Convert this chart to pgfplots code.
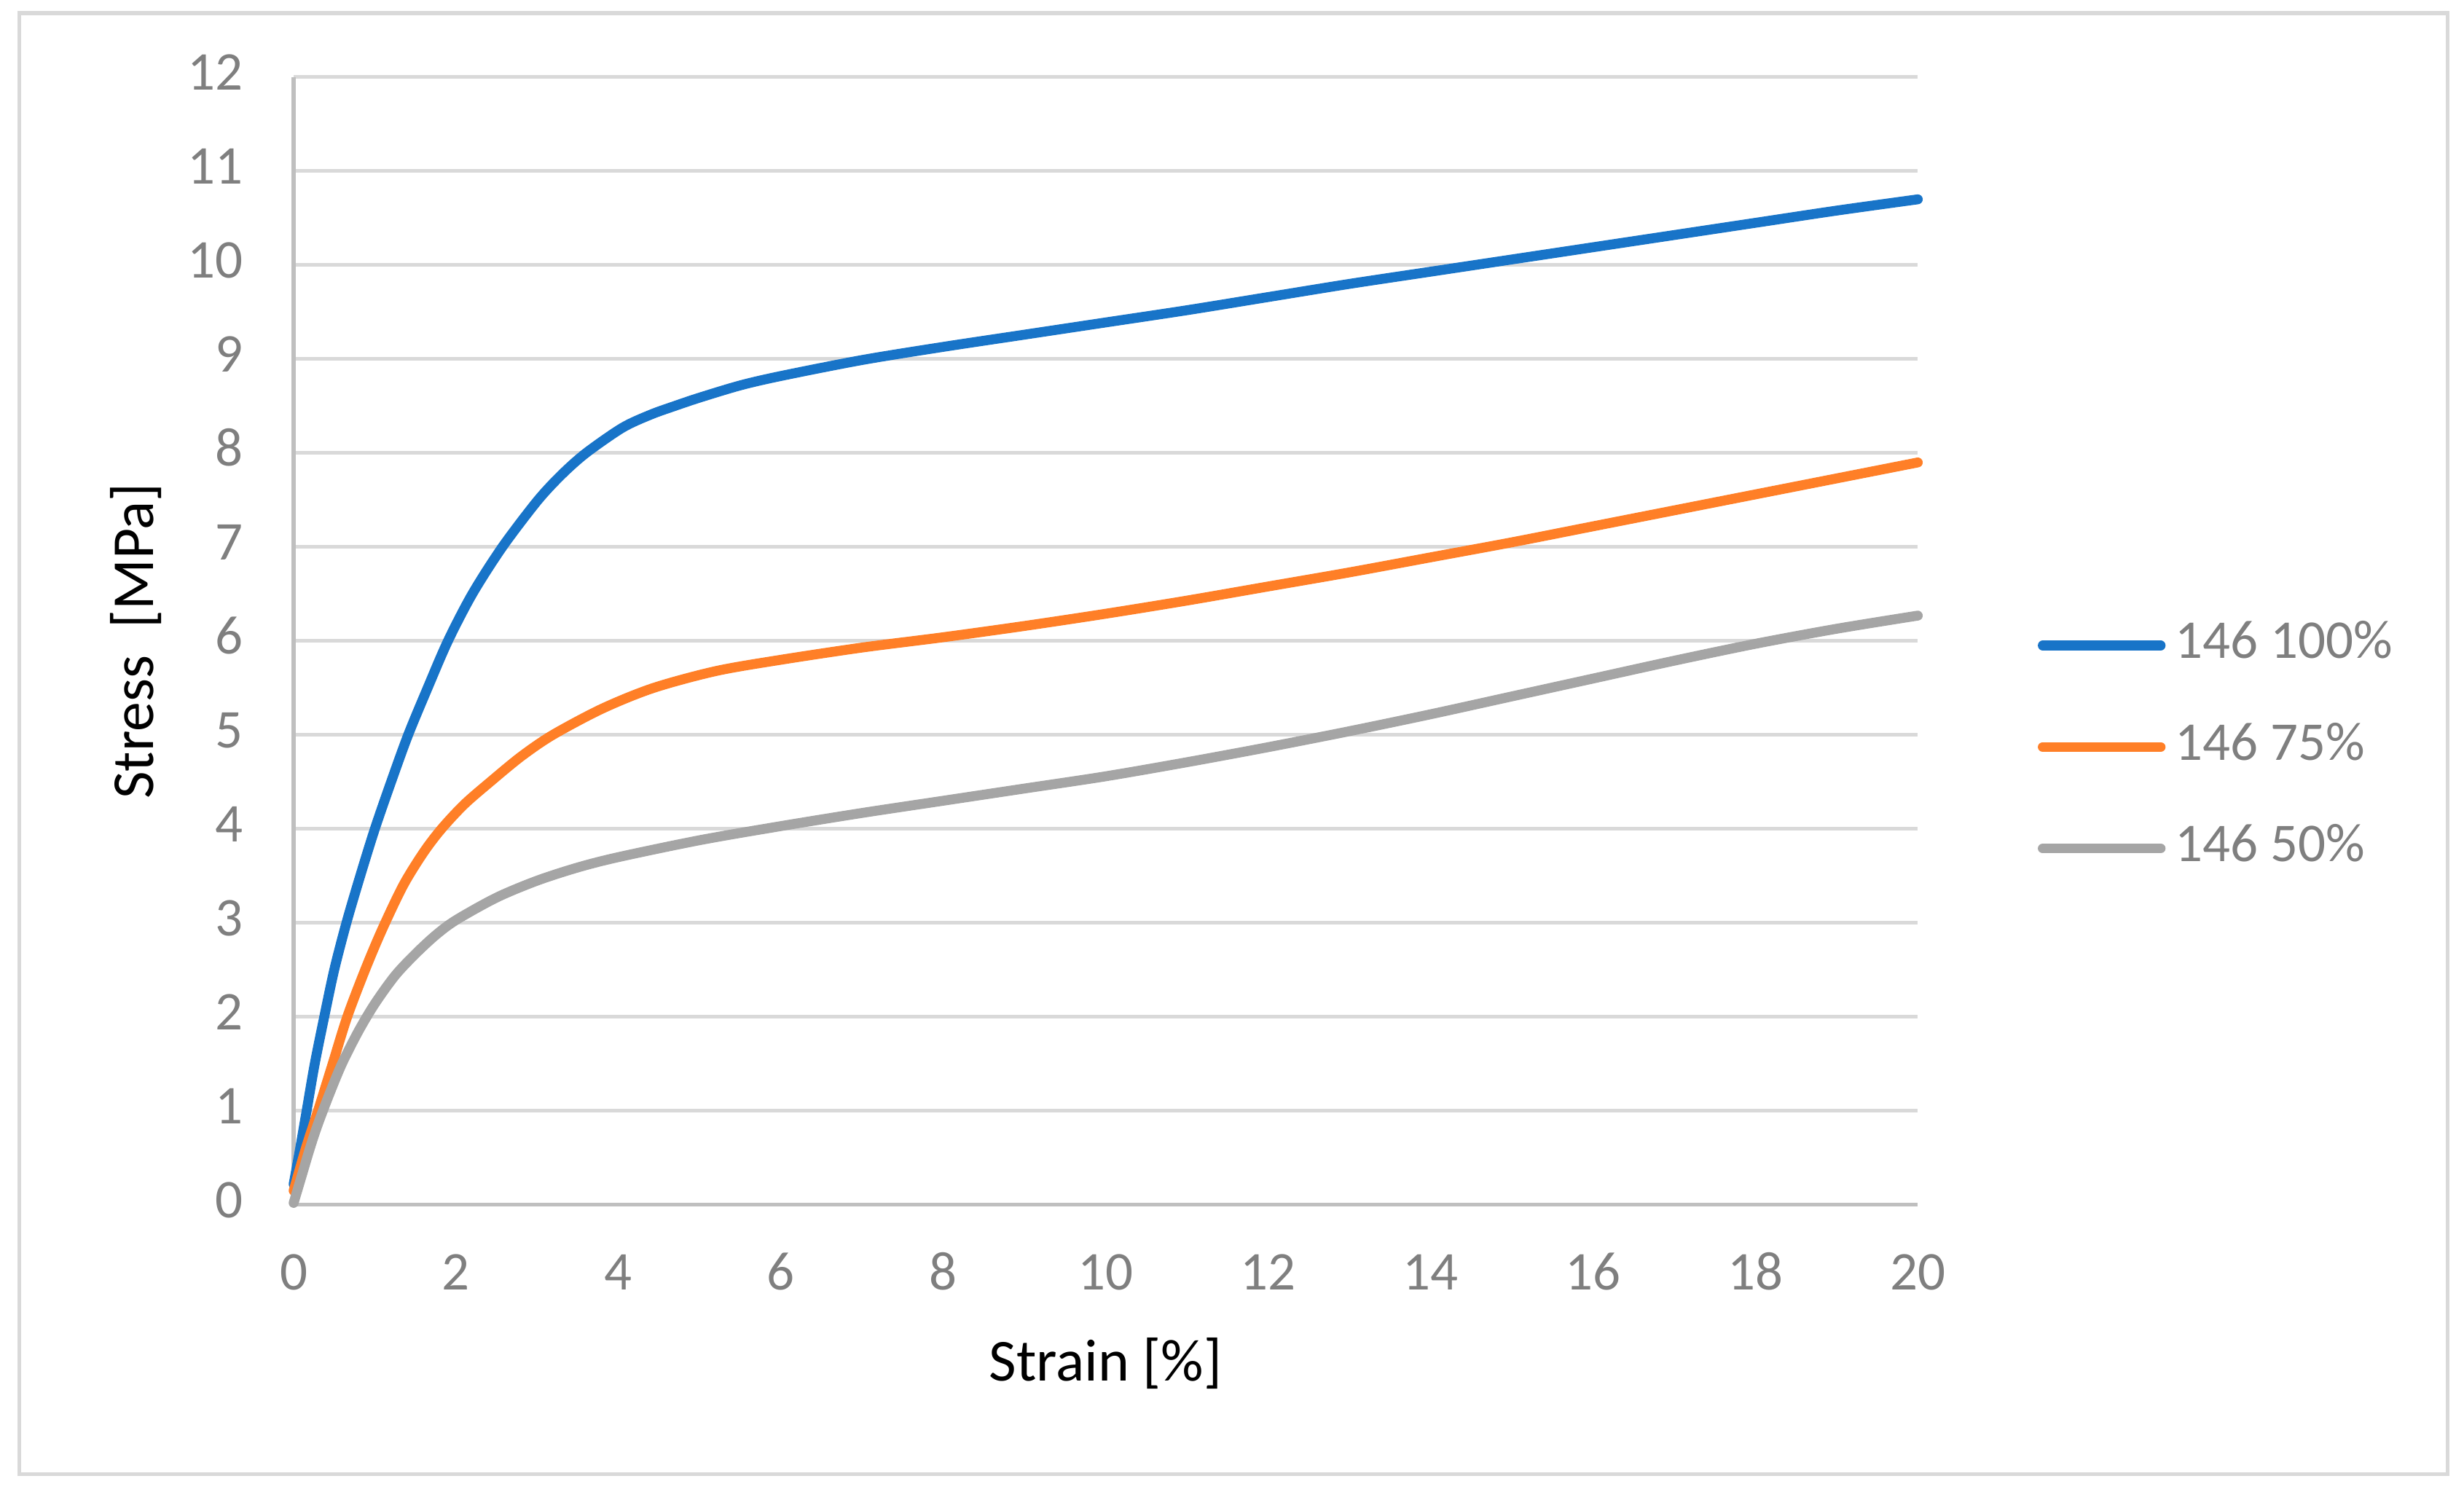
\documentclass[border=0pt]{standalone}
\usepackage{fontspec}
\setmainfont{Carlito}
\usepackage{pgfplots}
\pgfplotsset{compat=1.18}
\definecolor{blueline}{HTML}{1874C8}
\definecolor{orangeline}{HTML}{FF7F27}
\definecolor{grayline}{HTML}{A5A5A5}
\definecolor{gridgray}{HTML}{D9D9D9}
\definecolor{axisgray}{HTML}{BFBFBF}
\definecolor{labelgray}{HTML}{7F7F7F}
\begin{document}
\begin{tikzpicture}
% page frame and chart border
\path (0,0) rectangle (600pt,363.3pt);
\draw[gridgray, line width=1pt] (4.7pt,4.3pt) rectangle (596pt,360.1pt);
\begin{axis}[
    at={(71.5pt,69.9pt)}, anchor=south west,
    width=395.5pt, height=274.6pt, scale only axis,
    xmin=0, xmax=20, ymin=0, ymax=12,
    xtick={0,2,...,20}, ytick={0,1,...,12},
    axis x line*=bottom, axis y line*=left,
    axis line style={draw=axisgray, line width=0.9pt, -},
    ymajorgrids=true,
    grid style={draw=gridgray, line width=0.9pt},
    major tick length=0pt,
    clip=false,
    /pgf/number format/assume math mode=true,
    ticklabel style={font=\fontsize{13.3}{16}\selectfont, text=labelgray,
        text height=0.632em, text depth=0pt, inner sep=0pt},
    xticklabel style={anchor=center, yshift=-17.6pt},
    yticklabel style={anchor=east, xshift=-12.2pt},
    xlabel={Strain [\%]},
    ylabel={Stress~~[MPa]},
    xlabel style={font=\fontsize{14.5}{17}\selectfont, anchor=center,
        at={(axis description cs:0.5,-0.1409)}},
    ylabel style={font=\fontsize{14.5}{17}\selectfont, anchor=center, rotate=0,
        at={(axis description cs:-0.0973,0.5)}},
    legend style={at={(axis description cs:1.0734,0.4060)}, anchor=west,
        draw=none, fill=none, font=\fontsize{13.3}{16}\selectfont,
        text=labelgray, inner sep=0pt, row sep=18.4pt, column sep=2.4pt,
        nodes={inner sep=0pt, text height=0.632em, text depth=0pt}},
    legend cell align=left,
    legend image code/.code={\draw[#1, line cap=round] (0pt,0pt) -- (28.7pt,0pt);},
]
\addplot[blueline, line width=2.4pt, line cap=round, smooth] coordinates {
    (0,0.22) (0.08,0.6) (0.16,1.0) (0.26,1.5) (0.377,2.0) (0.5,2.5)
    (0.65,3.0) (0.82,3.5) (1.0,4.0) (1.2,4.5) (1.41,5.0) (1.65,5.5)
    (1.9,6.0) (2.2,6.5) (2.57,7.0) (3.0,7.49) (3.3,7.77) (3.6,8.0)
    (4.05,8.27) (4.4,8.41) (4.69,8.5) (5,8.59) (5.5,8.72) (6,8.82)
    (7,8.99) (8,9.13) (9,9.26) (10,9.39) (11,9.52) (12,9.66) (13,9.8)
    (14,9.93) (15,10.06) (16,10.19) (17,10.32) (18,10.45) (19,10.58)
    (20,10.7)
};
\addplot[orangeline, line width=2.4pt, line cap=round, smooth] coordinates {
    (0,0.15) (0.15,0.6) (0.3,1.0) (0.48,1.5) (0.66,2.0) (0.88,2.5)
    (1.09,2.93) (1.35,3.4) (1.6,3.75) (1.82,4.0) (2.1,4.26) (2.42,4.5)
    (2.8,4.77) (3.19,5.0) (3.8,5.28) (4.43,5.5) (5.2,5.68) (6,5.8)
    (7,5.93) (8,6.04) (9,6.16) (10,6.29) (11,6.43) (12,6.58) (13,6.73)
    (14,6.89) (15,7.05) (16,7.22) (17,7.39) (18,7.56) (19,7.73) (20,7.9)
};
\addplot[grayline, line width=2.4pt, line cap=round, smooth] coordinates {
    (0,0.02) (0.1,0.31) (0.2,0.6) (0.3,0.86) (0.45,1.2) (0.6,1.51)
    (0.8,1.85) (1,2.14) (1.25,2.44) (1.5,2.67) (1.75,2.87) (2,3.03)
    (2.5,3.27) (3,3.45) (3.5,3.59) (4,3.7) (5,3.88) (6,4.03) (7,4.17)
    (8,4.3) (9,4.43) (10,4.56) (11,4.71) (12,4.87) (13,5.04) (14,5.22)
    (15,5.41) (16,5.6) (17,5.79) (18,5.97) (19,6.13) (20,6.27)
};
\legend{146 100\%, 146 75\%, 146 50\%}
\end{axis}
\end{tikzpicture}
\end{document}
